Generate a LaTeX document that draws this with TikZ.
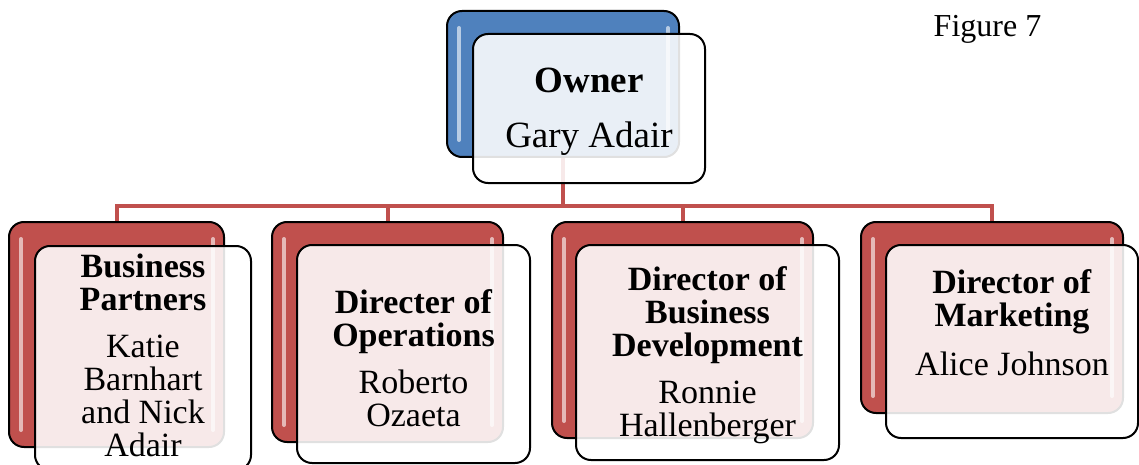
\documentclass[tikz,border=0pt]{standalone}
\usepackage{fontspec}
\setmainfont{Liberation Serif}
\definecolor{rojo}{HTML}{C0504D}
\definecolor{azul}{HTML}{4F81BD}

\begin{document}
\begin{tikzpicture}[x=1pt, y=-1pt,
    back/.style={rectangle, rounded corners=15pt, draw=black, line width=2pt,
                 fill=rojo, inner sep=0pt},
    front/.style={rectangle, rounded corners=15pt, draw=black, line width=2pt,
                  fill=white, fill opacity=0.88, inner sep=0pt},
    brillo/.style={line width=4pt, white, opacity=0.6, line cap=round},
    texto/.style={align=center, font=\fontsize{34}{33}\selectfont},
    link/.style={draw=rojo, line width=4pt}
  ]
    \useasboundingbox (0,0) rectangle (1139,465);

    % Cajas de fondo
    \node[back, fill=azul, minimum width=232pt, minimum height=146pt] (ob) at (563,84) {};
    \node[back, minimum width=215pt, minimum height=225pt] (b1) at (116.5,334.5) {};
    \node[back, minimum width=231pt, minimum height=220pt] (b2) at (387.5,332) {};
    \node[back, minimum width=261pt, minimum height=216pt] (b3) at (682.5,330) {};
    \node[back, minimum width=262pt, minimum height=191pt] (b4) at (992,317.5) {};

    % Brillos
    \foreach \b in {ob,b1,b2,b3,b4} {
      \draw[brillo] ([xshift=13pt,yshift=-18pt]\b.north west) -- ([xshift=13pt,yshift=18pt]\b.south west);
      \draw[brillo] ([xshift=-12pt,yshift=-18pt]\b.north east) -- ([xshift=-12pt,yshift=18pt]\b.south east);
    }

    % Conexiones
    \draw[link] (ob.south) -- ++(0,48) -| (b1.north);
    \draw[link] (ob.south) -- ++(0,48) -| (b2.north);
    \draw[link] (ob.south) -- ++(0,48) -| (b3.north);
    \draw[link] (ob.south) -- ++(0,48) -| (b4.north);

    % Cajas de texto
    \node[front, minimum width=232pt, minimum height=149pt] (of) at (589,108.5) {};
    \node[front, minimum width=216pt, minimum height=224pt] (f1) at (143,358) {};
    \node[front, minimum width=233pt, minimum height=218pt] (f2) at (413.5,354) {};
    \node[front, minimum width=263pt, minimum height=215pt] (f3) at (707.5,352.5) {};
    \node[front, minimum width=252pt, minimum height=193pt] (f4) at (1012,341.5) {};

    % Textos
    \node[texto, font=\fontsize{37}{37}\selectfont, yshift=-3pt] (t0) at (of)
      {\textbf{Owner}\\[18pt] Gary Adair};
    \node[texto, yshift=3pt] (t1) at (f1)
      {\textbf{Business}\\ \textbf{Partners}\\[14pt] Katie\\ Barnhart\\ and Nick\\ Adair};
    \node[texto, yshift=-4pt] (t2) at (f2)
      {\textbf{Directer of}\\ \textbf{Operations}\\[14pt] Roberto\\ Ozaeta};
    \node[texto, yshift=-3pt] (t3) at (f3)
      {\textbf{Director of}\\ \textbf{Business}\\ \textbf{Development}\\[14pt] Ronnie\\ Hallenberger};
    \node[texto, yshift=19pt] (t4) at (f4)
      {\textbf{Director of}\\ \textbf{Marketing}\\[16pt] Alice Johnson};

    \node[anchor=base, font=\fontsize{32}{32}\selectfont] (fig) at (987.5,37) {Figure 7};
\end{tikzpicture}
\end{document}
